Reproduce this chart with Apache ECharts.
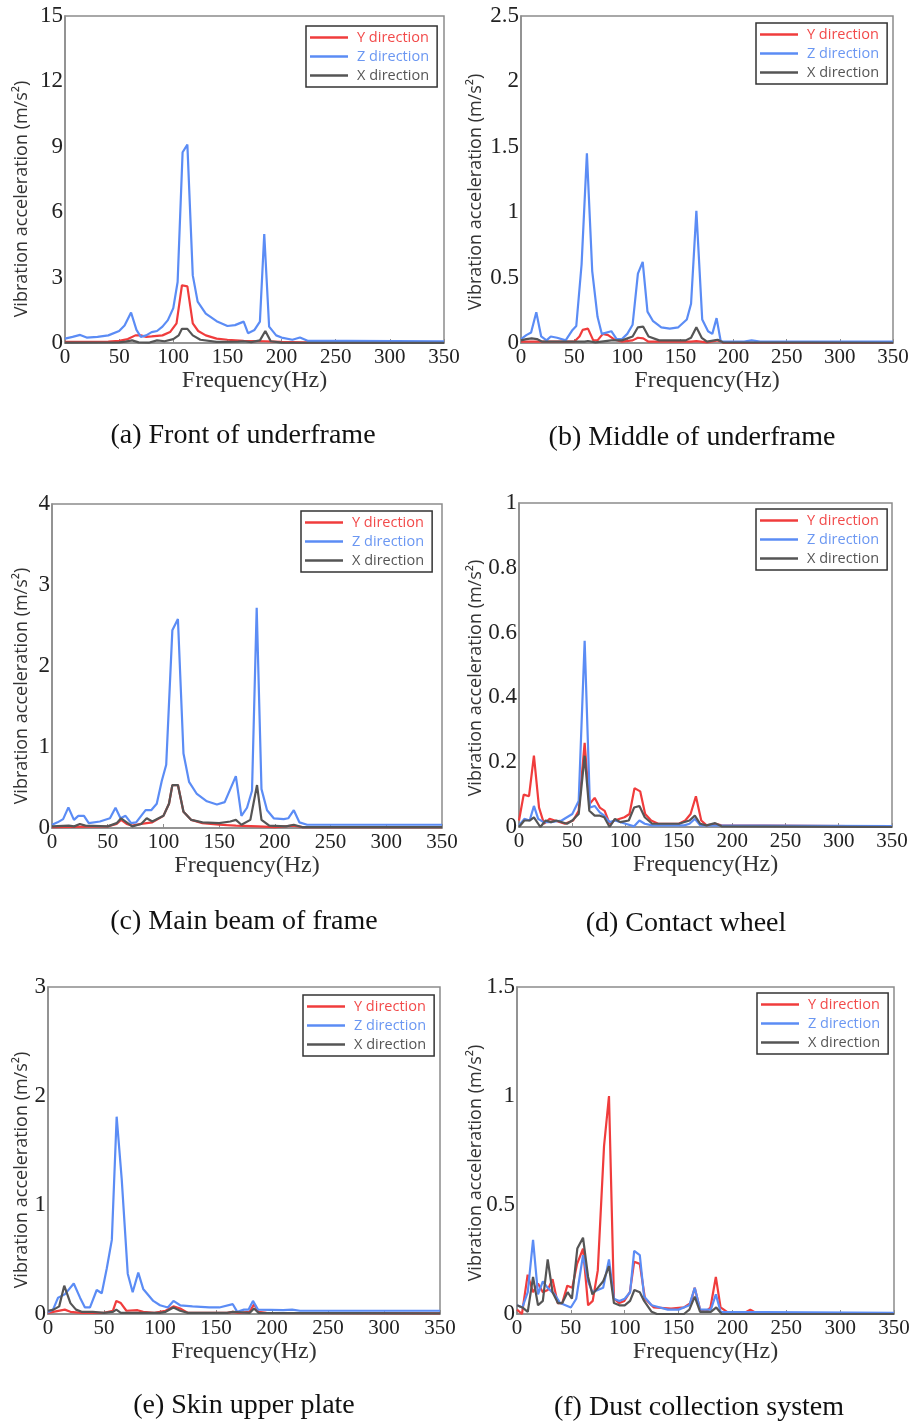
<!DOCTYPE html>
<html>
<head>
<meta charset="utf-8">
<script src="https://cdn.jsdelivr.net/npm/echarts@6/dist/echarts.min.js"></script>
<style>
html,body{margin:0;padding:0;background:#fff;}
#chart{width:916px;height:1423px;}
</style>
</head>
<body>
<div id="chart"></div>
<script>
// ---------- DATA: [frequency Hz, acceleration m/s^2] ----------
const seriesNames = ['Y direction', 'Z direction', 'X direction'];
const captions = ['(a) Front of underframe', '(b) Middle of underframe', '(c) Main beam of frame',
                  '(d) Contact wheel', '(e) Skin upper plate', '(f) Dust collection system'];
const xTicks = [0, 350, 50];          // min, max, interval
const yMaxes = [15, 2.5, 4, 1, 3, 1.5];
const yIntervals = [3, 0.5, 1, 0.2, 1, 0.5];

// (a) Front of underframe
const aY = [[0,0.05],[20,0.05],[40,0.06],[50,0.1],[58,0.18],[65,0.35],[70,0.35],[75,0.28],[80,0.3],[90,0.35],[97,0.5],[103,0.9],[108,2.65],[113,2.6],[118,0.9],[123,0.55],[130,0.35],[140,0.2],[150,0.15],[165,0.1],[185,0.08],[200,0.05],[220,0.03],[350,0.03]];
const aZ = [[0,0.2],[7,0.28],[14,0.37],[20,0.25],[30,0.28],[40,0.35],[50,0.55],[55,0.8],[61,1.4],[66,0.6],[70,0.28],[75,0.35],[80,0.5],[85,0.55],[90,0.75],[95,1.05],[100,1.6],[104,2.8],[108.6,8.75],[113,9.1],[118,3.1],[122.5,1.9],[130,1.35],[140,1.0],[150,0.78],[157,0.82],[165,0.98],[169,0.45],[175,0.6],[180,0.98],[184,5.0],[188.5,0.75],[195,0.35],[200,0.25],[210,0.15],[217,0.25],[224,0.1],[260,0.1],[350,0.08]];
const aX = [[0,0.02],[50,0.03],[56,0.06],[62,0.12],[68,0.03],[78,0.02],[85,0.12],[92,0.08],[100,0.18],[105,0.35],[108,0.65],[113,0.65],[118,0.35],[125,0.15],[140,0.05],[160,0.06],[165,0.08],[172,0.04],[180,0.12],[185,0.55],[190,0.08],[200,0.02],[350,0.01]];

// (b) Middle of underframe
const bY = [[0,0.01],[50,0.01],[55,0.05],[58,0.1],[63,0.11],[68,0.02],[72,0.02],[77,0.07],[82,0.06],[88,0.025],[95,0.01],[105,0.02],[110,0.04],[115,0.035],[120,0.01],[160,0.01],[165,0.015],[175,0.005],[185,0.02],[190,0.003],[350,0.002]];
const bZ = [[0,0.03],[5,0.06],[9.5,0.08],[14.4,0.235],[19,0.05],[24,0.02],[28,0.05],[34,0.04],[42,0.02],[48.5,0.1],[52,0.13],[57,0.6],[62,1.45],[67,0.55],[72,0.2],[76,0.07],[85,0.09],[90,0.03],[95,0.03],[100,0.07],[105,0.14],[110,0.53],[114.5,0.62],[119,0.24],[124,0.17],[132,0.12],[140,0.11],[148,0.12],[156,0.18],[160,0.3],[165,1.01],[170.5,0.18],[176,0.09],[180,0.07],[184,0.19],[188,0.01],[210,0.01],[217,0.02],[225,0.01],[350,0.01]];
const bX = [[0,0.02],[5,0.03],[10,0.035],[15,0.03],[20,0.01],[30,0.01],[60,0.01],[63,0.015],[70,0.005],[85,0.02],[95,0.02],[105,0.05],[110,0.12],[115,0.125],[120,0.05],[130,0.02],[155,0.02],[160,0.04],[165,0.12],[170,0.04],[175,0.01],[185,0.025],[190,0.005],[350,0.002]];

// (c) Main beam of frame
const cY = [[0,0.01],[50,0.02],[58,0.05],[62,0.1],[67,0.05],[72,0.03],[80,0.05],[90,0.07],[100,0.15],[105,0.3],[108,0.53],[113,0.53],[118,0.2],[125,0.1],[135,0.06],[150,0.04],[165,0.03],[185,0.02],[200,0.01],[217,0.03],[225,0.01],[350,0.01]];
const cZ = [[0,0.04],[5,0.07],[10,0.11],[14.7,0.255],[19.7,0.1],[23.6,0.15],[28.7,0.15],[33,0.06],[43,0.08],[52,0.12],[57,0.25],[61.5,0.12],[66,0.15],[71,0.06],[75.5,0.07],[84,0.22],[89,0.22],[94,0.3],[98.5,0.58],[102.5,0.78],[108,2.44],[113,2.58],[118,0.92],[123,0.57],[130,0.42],[139,0.33],[148,0.29],[155,0.32],[160,0.48],[165,0.64],[170,0.15],[175,0.25],[179.5,0.46],[183.7,2.72],[188,0.48],[193,0.22],[199,0.12],[208,0.11],[212,0.12],[217,0.22],[222,0.07],[229,0.04],[350,0.04]];
const cX = [[0,0.02],[15,0.03],[20,0.02],[25,0.05],[30,0.03],[50,0.02],[58,0.06],[62,0.12],[67,0.07],[72,0.02],[80,0.05],[85,0.12],[90,0.08],[100,0.15],[105,0.3],[108,0.53],[113,0.53],[118,0.2],[125,0.1],[135,0.07],[150,0.06],[160,0.08],[165,0.1],[170,0.04],[178,0.1],[184,0.53],[188,0.1],[195,0.03],[210,0.02],[217,0.04],[225,0.01],[350,0.01]];

// (d) Contact wheel
const dY = [[0,0.02],[4.4,0.1],[9.4,0.095],[14,0.22],[18.8,0.06],[23.5,0.01],[28.7,0.025],[33.5,0.02],[43,0.01],[50.8,0.02],[56,0.05],[61.6,0.26],[66,0.07],[71,0.09],[75.8,0.06],[80.4,0.05],[85,0.01],[89.5,0.02],[99,0.03],[103.7,0.04],[108.4,0.12],[113.7,0.11],[118.4,0.04],[124,0.02],[130.6,0.01],[150,0.01],[156,0.02],[161,0.04],[166,0.095],[171,0.02],[176,0.005],[184.6,0.01],[190,0.005],[350,0.002]];
const dZ = [[0,0.005],[5,0.025],[10,0.02],[14,0.065],[18,0.025],[23,0.015],[30,0.015],[40,0.02],[50,0.04],[56,0.08],[61.6,0.575],[66.6,0.06],[71,0.065],[75.8,0.045],[80,0.035],[85,0.015],[90,0.02],[100,0.01],[108,0.002],[113,0.02],[118,0.01],[125,0.005],[155,0.005],[160,0.01],[165,0.025],[170,0.005],[350,0.003]];
const dX = [[0,0],[5,0.02],[10,0.02],[14,0.03],[18,0.01],[20,0],[25,0.02],[30,0.015],[35,0.02],[45,0.01],[50,0.02],[56,0.04],[61.6,0.22],[66,0.05],[71,0.035],[76,0.035],[80,0.03],[85,0],[90,0.025],[95,0.015],[103,0.02],[108,0.06],[113,0.065],[118,0.03],[125,0.01],[150,0.01],[160,0.02],[165,0.035],[170,0.01],[176,0.005],[184,0.012],[190,0.002],[350,0]];

// (e) Skin upper plate
const eY = [[0,0.01],[15,0.04],[20,0.02],[30,0.01],[50,0.01],[58,0.03],[61,0.12],[65,0.1],[70,0.03],[80,0.035],[85,0.02],[95,0.01],[105,0.03],[112,0.07],[118,0.05],[125,0.01],[160,0.01],[165,0.02],[170,0.01],[180,0.02],[184,0.09],[188,0.02],[195,0.01],[350,0.005]];
const eZ = [[0,0.015],[4.5,0.04],[9,0.15],[15,0.18],[23,0.28],[28.6,0.15],[33,0.06],[37.5,0.06],[43.5,0.22],[48,0.19],[52.5,0.42],[57,0.68],[61.3,1.81],[65.8,1.24],[71.2,0.37],[75.6,0.2],[80.6,0.38],[85,0.23],[94,0.12],[100,0.08],[107,0.06],[112,0.12],[118,0.08],[129,0.07],[144,0.06],[153,0.06],[165,0.09],[169,0.02],[175,0.04],[179,0.04],[183,0.12],[187.5,0.04],[210,0.035],[218,0.04],[225,0.03],[350,0.03]];
const eX = [[0,0.03],[5,0.04],[10,0.07],[14.5,0.26],[20,0.1],[25,0.04],[30,0.02],[40,0.02],[50,0.01],[58,0.02],[61,0.04],[65,0.01],[80,0.01],[100,0.01],[105,0.02],[112,0.06],[118,0.03],[125,0.01],[160,0.01],[165,0.02],[180,0.01],[184,0.05],[188,0.01],[350,0.005]];

// (f) Dust collection system
const fY = [[0,0.02],[4.6,0],[9.9,0.18],[14.9,0.1],[19.5,0.14],[24,0.1],[28.5,0.11],[33,0.16],[37.7,0.05],[42,0.05],[46.7,0.13],[51.3,0.12],[55.8,0.23],[61.3,0.3],[66,0.04],[70.3,0.06],[75,0.2],[80.8,0.77],[85.4,1.0],[90,0.07],[95,0.05],[99.6,0.06],[104.8,0.1],[108.8,0.24],[114,0.23],[118.8,0.07],[127,0.03],[143,0.025],[155,0.03],[161,0.05],[165,0.12],[170,0.02],[175,0.01],[179.6,0.03],[184.6,0.17],[189,0.03],[195,0.01],[211,0.005],[216.6,0.02],[222,0.005],[350,0.002]];
const fZ = [[0,0.04],[5,0.03],[10,0.1],[14.9,0.34],[19.5,0.09],[24,0.15],[28.5,0.12],[35,0.09],[40,0.05],[50,0.03],[55,0.07],[61.3,0.27],[66,0.15],[70,0.1],[75,0.11],[80,0.12],[85.4,0.25],[90,0.07],[95,0.06],[100,0.07],[105,0.1],[108.8,0.29],[114,0.27],[118,0.08],[125,0.04],[140,0.02],[150,0.02],[160,0.04],[165,0.12],[170,0.02],[180,0.02],[184.6,0.09],[189,0.01],[350,0.005]];
const fX = [[0,0.04],[5,0.03],[10,0.01],[14.9,0.17],[19.5,0.04],[24,0.06],[28.5,0.25],[33,0.1],[38,0.05],[42,0.05],[47,0.1],[51,0.07],[56,0.3],[61.3,0.35],[66,0.17],[70,0.09],[75,0.12],[80,0.15],[85.4,0.22],[90,0.05],[95,0.04],[100,0.04],[105,0.06],[109,0.11],[114,0.1],[118,0.06],[125,0.01],[130,0],[155,0],[160,0.02],[165,0.08],[170,0.01],[180,0.01],[185,0.03],[190,0],[350,0]];

const panelData = [[aY, aZ, aX], [bY, bZ, bX], [cY, cZ, cX], [dY, dZ, dX], [eY, eZ, eX], [fY, fZ, fX]];

// ---------- LAYOUT ----------
const grids = [
  {left: 65,  top: 16,  width: 379, height: 327},
  {left: 521, top: 16,  width: 372, height: 327},
  {left: 52,  top: 504, width: 390, height: 324},
  {left: 519, top: 503, width: 373, height: 324},
  {left: 48,  top: 987, width: 392, height: 327},
  {left: 517, top: 987, width: 377, height: 327}
];
const legendPos = [[306, 26], [756, 23], [301, 511], [756, 509], [303, 995], [757, 993]];
const yNamePos = [[22, 199], [476, 192], [22, 686], [476, 678], [22, 1170], [476, 1163]];
const captionPos = [[243, 436], [692, 438], [244, 922], [686, 924], [244, 1406], [699, 1408]];

const lineColors = ['#f03c3c', '#5b8cf5', '#555555'];
const textColors = ['#f24a4a', '#6b97f2', '#555555'];
const frameColor = '#8c8c8c';
const serif = '"Liberation Serif", "Times New Roman", serif';
const sans = '"Open Sans", "Noto Sans", sans-serif';

const option = {
  animation: false,
  backgroundColor: '#ffffff',
  grid: grids.map(g => Object.assign({show: true, borderColor: frameColor, borderWidth: 1.5, backgroundColor: 'transparent'}, g)),
  xAxis: grids.map((g, i) => ({
    type: 'value', gridIndex: i, min: xTicks[0], max: xTicks[1], interval: xTicks[2],
    name: 'Frequency(Hz)', nameLocation: 'middle', nameGap: 26,
    nameTextStyle: {fontFamily: serif, fontSize: 24, color: '#333'},
    axisLine: {show: true, onZero: false, lineStyle: {color: frameColor, width: 1.5}},
    axisTick: {show: true, inside: true, length: 4, lineStyle: {color: frameColor}},
    axisLabel: {fontFamily: serif, fontSize: 21, color: '#222', margin: 4},
    splitLine: {show: false}
  })),
  yAxis: grids.map((g, i) => ({
    type: 'value', gridIndex: i, min: 0, max: yMaxes[i], interval: yIntervals[i],
    axisLine: {show: true, onZero: false, lineStyle: {color: frameColor, width: 1.5}},
    axisTick: {show: false},
    axisLabel: {fontFamily: serif, fontSize: 23, color: '#222', margin: 2},
    splitLine: {show: false}
  })),
  legend: legendPos.map(p => ({
    left: p[0], top: p[1], orient: 'vertical', icon: 'rect',
    itemWidth: 38, itemHeight: 2.5, itemGap: 4, selectedMode: false,
    borderColor: '#333', borderWidth: 1.5, backgroundColor: '#fff',
    padding: [4, 8, 4, 4],
    textStyle: {fontFamily: sans, fontSize: 14.5, lineHeight: 14, padding: [0, 0, 0, 4]},
    data: seriesNames.map((n, k) => ({name: n, textStyle: {color: textColors[k]}}))
  })),
  series: [],
  graphic: []
};

panelData.forEach((arrs, i) => {
  arrs.forEach((arr, k) => {
    option.series.push({
      type: 'line', name: seriesNames[k], xAxisIndex: i, yAxisIndex: i,
      data: arr, showSymbol: false, symbol: 'none',
      lineStyle: {color: lineColors[k], width: 2.2},
      itemStyle: {color: lineColors[k]},
      z: 2 + k
    });
  });
  option.graphic.push({
    type: 'text', x: yNamePos[i][0], y: yNamePos[i][1], rotation: Math.PI / 2,
    style: {text: 'Vibration acceleration (m/s\u00b2)', fontFamily: sans, fontSize: 18,
            fill: '#333', align: 'center', verticalAlign: 'middle'}
  });
  option.graphic.push({
    type: 'text', x: captionPos[i][0], y: captionPos[i][1],
    style: {text: captions[i], fontFamily: serif, fontSize: 28, fill: '#111',
            align: 'center', verticalAlign: 'middle'}
  });
});

const chart = echarts.init(document.getElementById('chart'), null, {renderer: 'canvas'});
chart.setOption(option);
</script>
</body>
</html>
